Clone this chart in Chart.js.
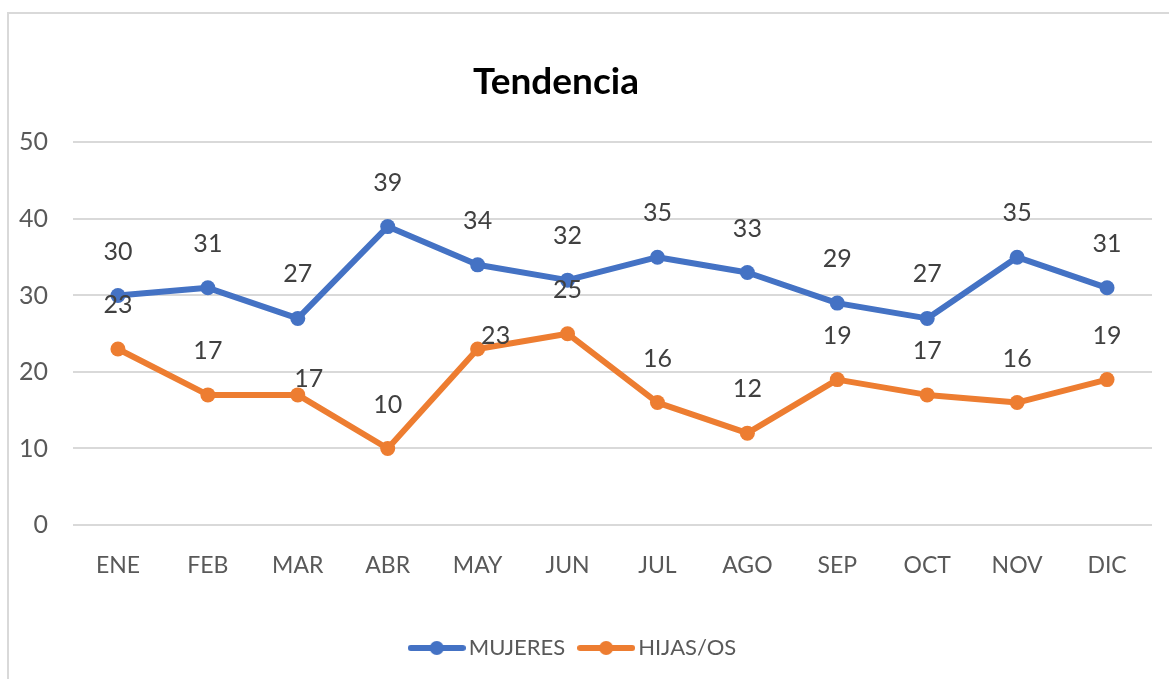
<!DOCTYPE html>
<html>
<head>
<meta charset="utf-8">
<script src="https://cdn.jsdelivr.net/npm/chart.js@4"></script>
<style>
  html, body { margin: 0; padding: 0; background: #fff; overflow: hidden; }
  #wrap { position: relative; width: 1169px; height: 679px; }
  #frame { position: absolute; left: 7px; top: 12px; width: 1300px; height: 800px;
           border-top: 2px solid #d9d9d9; border-left: 2px solid #d9d9d9; box-sizing: border-box; }
  canvas { position: absolute; left: 0; top: 0; }
</style>
</head>
<body>
<div id="wrap">
  <div id="frame"></div>
  <canvas id="c" width="1169" height="679"></canvas>
</div>
<script>
const categories = ['ENE','FEB','MAR','ABR','MAY','JUN','JUL','AGO','SEP','OCT','NOV','DIC'];
const mujeres = [30, 31, 27, 39, 34, 32, 35, 33, 29, 27, 35, 31];
const hijas = [23, 17, 17, 10, 23, 25, 16, 12, 19, 17, 16, 19];
const seriesNames = ['MUJERES', 'HIJAS/OS'];
const yTicks = [0, 10, 20, 30, 40, 50];

const FONT = 'Lato, "Open Sans", sans-serif';
const BLUE = '#4472C4', ORANGE = '#ED7D31';

// label placement (style): default offset above point, with a couple of Excel-like nudges
const defaultLabelOffset = [0, -44];
const labelNudges = { 1: { 2: [11, -16], 4: [18, -13] } };

function legendIcon(color) {
  const c = document.createElement('canvas');
  c.width = 58; c.height = 16;
  const g = c.getContext('2d');
  g.strokeStyle = color; g.lineWidth = 6; g.lineCap = 'round';
  g.beginPath(); g.moveTo(3, 8); g.lineTo(55, 8); g.stroke();
  g.fillStyle = color; g.beginPath(); g.arc(29, 8, 7, 0, Math.PI * 2); g.fill();
  return c;
}
const icons = [legendIcon(BLUE), legendIcon(ORANGE)];

const dataLabels = {
  id: 'dataLabels',
  afterDatasetsDraw(chart) {
    const ctx = chart.ctx;
    ctx.save();
    ctx.font = '25px ' + FONT;
    ctx.fillStyle = '#404040';
    ctx.textAlign = 'center';
    ctx.textBaseline = 'middle';
    chart.data.datasets.forEach((ds, di) => {
      const meta = chart.getDatasetMeta(di);
      meta.data.forEach((pt, i) => {
        const off = (labelNudges[di] && labelNudges[di][i]) || defaultLabelOffset;
        ctx.fillText(String(ds.data[i]), pt.x + off[0], pt.y + off[1]);
      });
    });
    ctx.restore();
  }
};

// Excel centres the title a little left of the canvas centre
const titleShift = {
  id: 'titleShift',
  afterLayout(chart) { if (chart.titleBlock) chart.titleBlock.right -= 40; }
};

new Chart(document.getElementById('c'), {
  type: 'line',
  data: {
    labels: categories,
    datasets: [
      { label: seriesNames[0], data: mujeres, borderColor: BLUE, backgroundColor: BLUE,
        borderWidth: 6, pointRadius: 7.5, pointBorderWidth: 0, pointBackgroundColor: BLUE,
        tension: 0, borderCapStyle: 'round', borderJoinStyle: 'round' },
      { label: seriesNames[1], data: hijas, borderColor: ORANGE, backgroundColor: ORANGE,
        borderWidth: 6, pointRadius: 7.5, pointBorderWidth: 0, pointBackgroundColor: ORANGE,
        tension: 0, borderCapStyle: 'round', borderJoinStyle: 'round' }
    ]
  },
  options: {
    responsive: false,
    devicePixelRatio: 1,
    animation: false,
    layout: { padding: { left: 0, right: 17, top: 0, bottom: 10 } },
    scales: {
      x: {
        offset: true,
        grid: { display: false, drawTicks: false },
        border: { display: false },
        ticks: { color: '#595959', font: { family: FONT, size: 23 }, padding: 27 },
        afterFit(s) { s.height = 92; }
      },
      y: {
        min: 0, max: 50,
        afterBuildTicks(s) { s.ticks = yTicks.map(v => ({ value: v })); },
        grid: { color: '#d9d9d9', lineWidth: 2, drawTicks: false },
        border: { display: false },
        ticks: { color: '#595959', font: { family: FONT, size: 25 }, padding: 25 },
        afterFit(s) { s.width = 73; }
      }
    },
    plugins: {
      title: {
        display: true, text: 'Tendencia', color: '#000',
        font: { family: FONT, size: 37, weight: 'bold' },
        padding: { top: 60, bottom: 38 }
      },
      legend: {
        position: 'bottom',
        labels: {
          usePointStyle: true, pointStyleWidth: 42, padding: 20,
          color: '#595959', font: { family: FONT, size: 22 },
          generateLabels(chart) {
            const items = Chart.defaults.plugins.legend.labels.generateLabels(chart);
            items.forEach((it, i) => { it.pointStyle = icons[i]; });
            return items;
          }
        }
      },
      tooltip: { enabled: false }
    }
  },
  plugins: [dataLabels, titleShift]
});
</script>
</body>
</html>
